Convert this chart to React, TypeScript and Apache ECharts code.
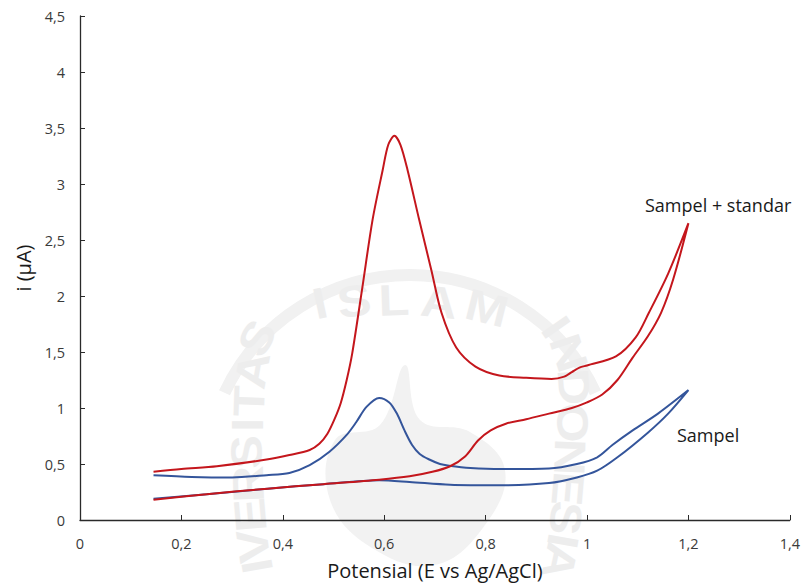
import React, { useEffect, useRef } from "react";
import * as echarts from "echarts";

// Sampel + standar (red) : forward branch then return branch
const redForwardX = [0.145, 0.25, 0.37, 0.48, 0.59, 0.65, 0.695, 0.73, 0.76, 0.785, 0.81, 0.84, 0.88, 0.925, 0.97, 1.0, 1.03, 1.06, 1.09, 1.12, 1.146, 1.17, 1.2];
const redForwardY = [0.18, 0.23, 0.28, 0.32, 0.36, 0.39, 0.43, 0.48, 0.57, 0.71, 0.8, 0.86, 0.9, 0.95, 1.0, 1.05, 1.12, 1.25, 1.45, 1.64, 1.85, 2.15, 2.65];
const redReturnX = [1.2, 1.16, 1.122, 1.096, 1.057, 1.0, 0.985, 0.97, 0.955, 0.93, 0.88, 0.827, 0.78, 0.742, 0.713, 0.693, 0.669, 0.646, 0.632, 0.62, 0.608, 0.597, 0.577, 0.557, 0.537, 0.526, 0.514, 0.502, 0.488, 0.472, 0.453, 0.413, 0.368, 0.27, 0.2, 0.145];
const redReturnY = [2.65, 2.2, 1.85, 1.63, 1.46, 1.38, 1.36, 1.32, 1.28, 1.26, 1.27, 1.29, 1.37, 1.54, 1.85, 2.23, 2.68, 3.125, 3.35, 3.43, 3.35, 3.125, 2.68, 2.08, 1.49, 1.25, 1.04, 0.9, 0.77, 0.68, 0.625, 0.58, 0.54, 0.48, 0.455, 0.43];

// Sampel (blue)
const blueForwardX = [0.145, 0.25, 0.37, 0.48, 0.59, 0.65, 0.73, 0.83, 0.925, 0.98, 1.02, 1.06, 1.12, 1.16, 1.2];
const blueForwardY = [0.19, 0.23, 0.28, 0.32, 0.355, 0.34, 0.315, 0.31, 0.33, 0.38, 0.44, 0.56, 0.78, 0.95, 1.16];
const blueReturnX = [1.2, 1.14, 1.09, 1.05, 1.02, 0.98, 0.925, 0.83, 0.77, 0.728, 0.71, 0.689, 0.67, 0.655, 0.64, 0.625, 0.61, 0.59, 0.565, 0.545, 0.526, 0.492, 0.453, 0.413, 0.368, 0.3, 0.22, 0.145];
const blueReturnY = [1.16, 0.95, 0.8, 0.67, 0.56, 0.5, 0.46, 0.455, 0.465, 0.485, 0.5, 0.54, 0.59, 0.67, 0.8, 0.95, 1.05, 1.09, 1.01, 0.875, 0.76, 0.61, 0.49, 0.42, 0.4, 0.38, 0.385, 0.4];

const xTicks = [0, 0.2, 0.4, 0.6, 0.8, 1, 1.2, 1.4];
const yTicks = [0, 0.5, 1, 1.5, 2, 2.5, 3, 3.5, 4, 4.5];

const seriesLabels = ["Sampel + standar", "Sampel"];

const FONT = "'Open Sans', 'Noto Sans', sans-serif";
const WM = "#ededed";

const pairs = (xs: number[], ys: number[]) => xs.map((x, i) => [x, ys[i]]);
const fmt = (v: number) => String(v).replace(".", ",");

// decorative watermark letters: [char, x, y, rotationDeg]
const wmLetters: [string, number, number, number][] = [
  ["I", 320, 303, 12], ["S", 354, 301, 8], ["L", 394, 300, 2], ["A", 439, 302, -6], ["M", 487, 308, -14],
  ["S", 257, 338, 62], ["A", 252, 370, 80], ["T", 249, 401, 88], ["I", 248, 425, 90], ["S", 247, 452, 90],
  ["R", 248, 484, 92], ["E", 250, 515, 95], ["V", 253, 546, 98], ["I", 257, 566, 100],
  ["I", 556, 327, -55], ["N", 569, 353, -72], ["D", 574, 387, -86], ["O", 572, 423, -90],
  ["N", 570, 457, -92], ["E", 568, 489, -95], ["S", 566, 518, -97], ["I", 563, 541, -100], ["A", 560, 561, -102],
];

export default function App() {
  const ref = useRef<HTMLDivElement>(null);
  useEffect(() => {
    if (!ref.current) return;
    const chart = echarts.init(ref.current, null, { renderer: "svg" });
    const wmGraphics: any[] = [
      {
        type: "arc",
        z: -10,
        silent: true,
        shape: { cx: 410, cy: 480, r: 205, startAngle: -Math.PI * 0.86, endAngle: -Math.PI * 0.14, clockwise: true },
        style: { stroke: "#f1f1f1", lineWidth: 12, fill: "none" },
      },
      {
        type: "polygon",
        z: -10,
        silent: true,
        shape: {
          points: [[335, 440], [380, 425], [405, 365], [420, 420], [470, 432], [505, 470], [485, 525], [435, 565], [372, 548], [330, 500]],
          smooth: 0.4,
        },
        style: { fill: "#f2f2f2" },
      },
      ...wmLetters.map(([c, x, y, r]) => ({
        type: "text",
        z: -10,
        silent: true,
        x,
        y,
        scaleX: 1.15,
        rotation: (r * Math.PI) / 180,
        style: { text: c, fill: WM, font: `bold 44px 'Liberation Sans', sans-serif`, align: "center", verticalAlign: "middle" },
      })),
      {
        type: "text",
        left: 645,
        top: 196,
        style: { text: seriesLabels[0], fill: "#1a1a1a", font: `18px ${FONT}` },
      },
      {
        type: "text",
        left: 677,
        top: 426,
        style: { text: seriesLabels[1], fill: "#1a1a1a", font: `18px ${FONT}` },
      },
    ];
    chart.setOption({
      animation: false,
      backgroundColor: "#ffffff",
      grid: { left: 80, right: 12, top: 16, bottom: 68, containLabel: false },
      xAxis: {
        type: "value",
        min: 0,
        max: 1.4,
        interval: 0.2,
        name: "Potensial (E vs Ag/AgCl)",
        nameLocation: "middle",
        nameGap: 40,
        nameTextStyle: { fontFamily: FONT, fontSize: 20, color: "#1a1a1a" },
        axisLine: { lineStyle: { color: "#2a2a2a", width: 1.3 } },
        axisTick: { show: true, inside: true, length: 5, lineStyle: { color: "#2a2a2a" } },
        axisLabel: { formatter: (v: number) => fmt(v), fontFamily: FONT, fontSize: 14.5, color: "#3a3a3a", margin: 16, customValues: xTicks },
        splitLine: { show: false },
      },
      yAxis: {
        type: "value",
        min: 0,
        max: 4.5,
        interval: 0.5,
        name: "i (µA)",
        nameLocation: "middle",
        nameGap: 42,
        nameTextStyle: { fontFamily: FONT, fontSize: 20, color: "#1a1a1a" },
        axisLine: { show: true, lineStyle: { color: "#2a2a2a", width: 1.3 } },
        axisTick: { show: true, inside: true, length: 5, lineStyle: { color: "#2a2a2a" } },
        axisLabel: { formatter: (v: number) => fmt(v), fontFamily: FONT, fontSize: 14.5, color: "#3a3a3a", margin: 15, customValues: yTicks },
        splitLine: { show: false },
      },
      graphic: wmGraphics,
      series: [
        {
          name: seriesLabels[1],
          type: "line",
          smooth: 0.3,
          showSymbol: false,
          symbol: "none",
          data: [...pairs(blueForwardX, blueForwardY), ...pairs(blueReturnX, blueReturnY).slice(1)],
          lineStyle: { color: "#34559b", width: 2 },
          z: 2,
        },
        {
          name: seriesLabels[0],
          type: "line",
          smooth: 0.3,
          showSymbol: false,
          symbol: "none",
          data: [...pairs(redForwardX, redForwardY), ...pairs(redReturnX, redReturnY).slice(1)],
          lineStyle: { color: "#c4161c", width: 2 },
          z: 3,
        },
      ],
    });
    return () => chart.dispose();
  }, []);
  return <div ref={ref} style={{ position: "absolute", left: 0, top: 0, width: 803, height: 588 }} />;
}
